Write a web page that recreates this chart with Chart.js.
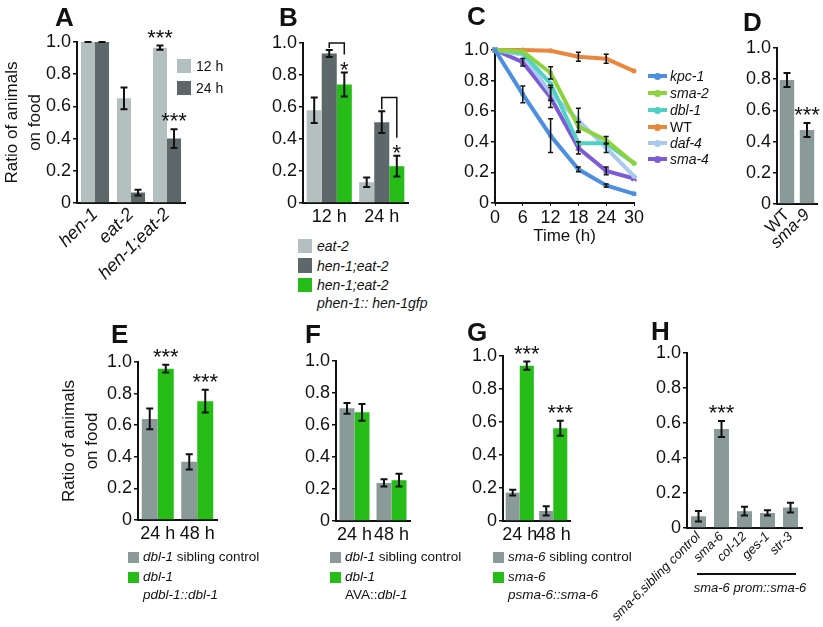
<!DOCTYPE html>
<html>
<head>
<meta charset="utf-8">
<script src="https://cdn.jsdelivr.net/npm/chart.js@4"></script>
<style>
  body { margin: 0; background: #fff; font-family: 'Liberation Sans', Arial, sans-serif; }
  #fig { position: relative; width: 823px; height: 627px; overflow: hidden; }
  canvas { position: absolute; }
  .t { position: absolute; white-space: nowrap; color: #111; }
  .box { position: absolute; }
</style>
</head>
<body>
<div id="fig"></div>
<script>
// ---- A: hen-1 / eat-2 ----
const aCats = ['hen-1', 'eat-2', 'hen-1;eat-2'];
const a12h = [1.0, 0.65, 0.965];
const a12hErr = [0, 0.067, 0.013];
const a12hStars = ['', '', '***'];
const a24h = [1.0, 0.065, 0.40];
const a24hErr = [0, 0.018, 0.058];
const a24hStars = ['', '', '***'];

// ---- B: rescue ----
const bCats = ['12 h', '24 h'];
const bEat2 = [0.58, 0.13];
const bEat2Err = [0.08, 0.03];
const bHenEat = [0.935, 0.505];
const bHenEatErr = [0.022, 0.068];
const bRescue = [0.74, 0.23];
const bRescueErr = [0.075, 0.065];
const bRescueStars = ['*', '*'];
const bBracketTop = [1.0, 0.66];

// ---- C: time course ----
const cTimes = [0, 6, 12, 18, 24, 30];
const cKpc1 = [1.0, 0.71, 0.44, 0.22, 0.115, 0.06];
const cKpc1Err = [0, 0.055, 0.11, 0.015, 0.01, 0];
const cSma2 = [1.0, 0.99, 0.85, 0.50, 0.41, 0.26];
const cSma2Err = [0, 0, 0.04, 0.03, 0.025, 0];
const cDbl1 = [1.0, 0.98, 0.78, 0.39, 0.39, 0.26];
const cDbl1Err = [0, 0, 0, 0, 0, 0];
const cWT = [1.0, 1.0, 0.995, 0.956, 0.943, 0.862];
const cWTErr = [0, 0, 0, 0.03, 0.03, 0];
const cDaf4 = [1.0, 0.97, 0.72, 0.54, 0.36, 0.175];
const cDaf4Err = [0, 0, 0.05, 0.08, 0.03, 0];
const cSma4 = [1.0, 0.92, 0.69, 0.36, 0.21, 0.16];
const cSma4Err = [0, 0.025, 0.065, 0.04, 0.025, 0];

// ---- D: sma-9 ----
const dCats = ['WT', 'sma-9'];
const dVals = [0.795, 0.474];
const dErr = [0.045, 0.045];
const dStars = ['', '***'];

// ---- E-G: 24 h / 48 h ----
const timeCats = ['24 h', '48 h'];
const eSibling = [0.64, 0.368];
const eSiblingErr = [0.065, 0.048];
const eRescue = [0.958, 0.752];
const eRescueErr = [0.024, 0.072];
const eStars = ['***', '***'];
const fSibling = [0.704, 0.238];
const fSiblingErr = [0.033, 0.023];
const fAVA = [0.679, 0.255];
const fAVAErr = [0.052, 0.04];
const gSibling = [0.172, 0.061];
const gSiblingErr = [0.018, 0.028];
const gRescue = [0.941, 0.562];
const gRescueErr = [0.025, 0.045];
const gStars = ['***', '***'];

// ---- H: tissue promoters ----
const hCats = ['sma-6,sibling control', 'sma-6', 'col-12', 'ges-1', 'str-3'];
const hVals = [0.067, 0.566, 0.096, 0.086, 0.117];
const hErr = [0.03, 0.046, 0.025, 0.015, 0.028];
const hStars = ['', '***', '', '', ''];

const LIGHT = '#b4bfbf', DARK = '#5d686b', GREEN = '#27bd18', GRAY = '#8a9a99';
const cColors = { 'kpc-1': '#4c8ee0', 'sma-2': '#8dd33c', 'dbl-1': '#4fd2c4',
                  'WT': '#e9883c', 'daf-4': '#a9c9ee', 'sma-4': '#7c5cd6' };

const FONT = "'Liberation Sans', Arial, sans-serif";
Chart.defaults.font.family = FONT;
Chart.defaults.color = '#111';
const fig = document.getElementById('fig');

// error bars, significance stars and brackets
const marks = {
  id: 'marks',
  afterDatasetsDraw(chart, args, opt) {
    const ctx = chart.ctx, ys = chart.scales.y;
    const cap = opt.cap || 3.5;
    ctx.save();
    ctx.strokeStyle = '#111';
    ctx.fillStyle = '#111';
    ctx.lineWidth = opt.lineWidth || 2;
    chart.data.datasets.forEach((ds, di) => {
      const meta = chart.getDatasetMeta(di);
      meta.data.forEach((el, i) => {
        const raw = ds.data[i];
        const v = typeof raw === 'object' ? raw.y : raw;
        const e = ds.errors ? ds.errors[i] : 0;
        if (e > 0 || (opt.zeroCaps && ds.errors)) {
          const y1 = ys.getPixelForValue(v + e), y2 = ys.getPixelForValue(v - e);
          ctx.beginPath();
          ctx.moveTo(el.x, y1); ctx.lineTo(el.x, y2);
          ctx.moveTo(el.x - cap, y1); ctx.lineTo(el.x + cap, y1);
          ctx.moveTo(el.x - cap, y2); ctx.lineTo(el.x + cap, y2);
          ctx.stroke();
        }
        if (ds.stars && ds.stars[i]) {
          ctx.font = (opt.starSize || 22) + 'px ' + FONT;
          ctx.textAlign = 'center';
          ctx.textBaseline = 'alphabetic';
          ctx.fillText(ds.stars[i], el.x, ys.getPixelForValue(v + e) - (opt.starLift || 1));
        }
      });
    });
    if (opt.bracket) {
      const br = opt.bracket;
      const m1 = chart.getDatasetMeta(br.from), m2 = chart.getDatasetMeta(br.to);
      const d1 = chart.data.datasets[br.from], d2 = chart.data.datasets[br.to];
      ctx.lineWidth = 1.5;
      br.top.forEach((t, i) => {
        const yt = ys.getPixelForValue(t);
        const yl = ys.getPixelForValue(d1.data[i] + d1.errors[i]) - 2;
        const yr = ys.getPixelForValue(d2.data[i] + d2.errors[i]) - 18;
        ctx.beginPath();
        ctx.moveTo(m1.data[i].x, yl); ctx.lineTo(m1.data[i].x, yt);
        ctx.lineTo(m2.data[i].x, yt); ctx.lineTo(m2.data[i].x, yr);
        ctx.stroke();
      });
    }
    ctx.restore();
  }
};
Chart.register(marks);

function makeCanvas(b) {
  const c = document.createElement('canvas');
  c.width = b.yw + (b.r - b.l) + b.pr;
  c.height = b.pt + (b.b - b.t) + b.xh;
  c.style.left = (b.l - b.yw) + 'px';
  c.style.top = (b.t - b.pt) + 'px';
  fig.appendChild(c);
  return c;
}
const noPad = s => { s.paddingLeft = 0; s.paddingRight = 0; s.paddingTop = 0; s.paddingBottom = 0; };

function yAxis(b, title) {
  return {
    min: 0, max: 1,
    ticks: { stepSize: 0.2, padding: 2, font: { size: 18 }, color: '#111',
             callback: v => v === 0 ? '0' : v.toFixed(1) },
    grid: { display: true, drawOnChartArea: false, drawTicks: true, tickLength: 4,
            color: '#111', lineWidth: 1.5 },
    border: { color: '#111', width: 2 },
    title: title ? { display: true, text: title, color: '#111',
                     font: { size: 17, lineHeight: 1.35 }, padding: { top: b.titlePad, bottom: 0 } }
                 : { display: false },
    afterFit: s => { s.width = b.yw; noPad(s); }
  };
}
function xCat(b, ticks) {
  return {
    grid: { display: false, drawTicks: false },
    border: { color: '#111', width: 2 },
    ticks: Object.assign({ font: { size: 18 }, color: '#111', padding: 3, autoSkip: false,
                           maxRotation: 0 }, ticks || {}),
    afterFit: s => { s.height = b.xh; noPad(s); }
  };
}
function bars(data, errors, color, cp, stars) {
  return { data, errors, stars, backgroundColor: color, borderWidth: 0,
           categoryPercentage: cp, barPercentage: 1 };
}
function barChart(b, labels, datasets, extra) {
  extra = extra || {};
  return new Chart(makeCanvas(b), {
    type: 'bar',
    data: { labels, datasets },
    options: {
      responsive: false, animation: false, devicePixelRatio: 1,
      layout: { padding: { top: b.pt, right: b.pr, left: 0, bottom: 0 } },
      plugins: { legend: { display: false }, tooltip: { enabled: false }, marks: extra.marks || {} },
      scales: { x: xCat(b, extra.xTicks), y: yAxis(b, extra.yTitle) }
    }
  });
}

const rot = { minRotation: 45, maxRotation: 45, padding: 1 };

// A
barChart({ l: 77, t: 42, r: 185, b: 203, yw: 77, pt: 42, pr: 12, xh: 85, titlePad: 1 }, aCats, [
  bars(a12h, a12hErr, LIGHT, 0.78, a12hStars),
  bars(a24h, a24hErr, DARK, 0.78, a24hStars)
], { yTitle: ['Ratio of animals', 'on food'], marks: { zeroCaps: true },
     xTicks: Object.assign({ font: { size: 18, style: 'italic' } }, rot) });

// B
barChart({ l: 303, t: 43, r: 408, b: 203, yw: 48, pt: 30, pr: 6, xh: 30 }, bCats, [
  bars(bEat2, bEat2Err, LIGHT, 0.86),
  bars(bHenEat, bHenEatErr, DARK, 0.86),
  bars(bRescue, bRescueErr, GREEN, 0.86, bRescueStars)
], { marks: { starLift: -4, bracket: { from: 1, to: 2, top: bBracketTop } } });

// C
const cSeries = [
  { name: 'kpc-1', vals: cKpc1, errs: cKpc1Err },
  { name: 'sma-2', vals: cSma2, errs: cSma2Err },
  { name: 'dbl-1', vals: cDbl1, errs: cDbl1Err },
  { name: 'WT', vals: cWT, errs: cWTErr },
  { name: 'daf-4', vals: cDaf4, errs: cDaf4Err },
  { name: 'sma-4', vals: cSma4, errs: cSma4Err }
];
const bC = { l: 495, t: 50, r: 634, b: 203, yw: 48, pt: 15, pr: 10, xh: 48 };
new Chart(makeCanvas(bC), {
  type: 'line',
  data: { datasets: cSeries.map(s => ({
    label: s.name,
    data: cTimes.map((t, i) => ({ x: t, y: s.vals[i] })),
    errors: s.errs,
    borderColor: cColors[s.name], backgroundColor: cColors[s.name],
    borderWidth: 4, tension: 0, clip: 8,
    pointStyle: s.name === 'sma-4' ? 'crossRot' : 'circle',
    pointRadius: s.name === 'sma-4' ? 3.5 : 2.5,
    pointBorderWidth: s.name === 'sma-4' ? 2 : 0
  })) },
  options: {
    responsive: false, animation: false, devicePixelRatio: 1,
    layout: { padding: { top: bC.pt, right: bC.pr, left: 0, bottom: 0 } },
    plugins: { legend: { display: false }, tooltip: { enabled: false }, marks: { lineWidth: 1.5, cap: 2.5 } },
    scales: {
      x: { type: 'linear', min: 0, max: 30,
           ticks: { stepSize: 6, font: { size: 18 }, color: '#111', padding: 1 },
           grid: { drawOnChartArea: false, tickLength: 3, color: '#111' },
           border: { color: '#111', width: 2 },
           title: { display: true, text: 'Time (h)', color: '#111', font: { size: 17 }, padding: { top: 0, bottom: 4 } },
           afterFit: s => { s.height = bC.xh; noPad(s); } },
      y: yAxis(bC)
    }
  }
});

// D
barChart({ l: 777, t: 48, r: 817, b: 204, yw: 45, pt: 40, pr: 6, xh: 60 }, dCats, [
  Object.assign(bars(dVals, dErr, GRAY, 1, dStars), { barPercentage: 0.72 })
], { xTicks: Object.assign({ font: c => ({ size: 17, style: c.index === 0 ? 'normal' : 'italic' }) }, rot) });

// E
barChart({ l: 138, t: 362, r: 217, b: 520, yw: 138, pt: 35, pr: 8, xh: 28, titlePad: 58 }, timeCats, [
  bars(eSibling, eSiblingErr, GRAY, 0.81),
  bars(eRescue, eRescueErr, GREEN, 0.81, eStars)
], { yTitle: ['Ratio of animals', 'on food'] });

// F
barChart({ l: 336, t: 361, r: 410, b: 521, yw: 45, pt: 20, pr: 6, xh: 28 }, timeCats, [
  bars(fSibling, fSiblingErr, GRAY, 0.81),
  bars(fAVA, fAVAErr, GREEN, 0.81)
]);

// G
barChart({ l: 503, t: 356, r: 570, b: 521, yw: 45, pt: 20, pr: 8, xh: 28 }, timeCats, [
  bars(gSibling, gSiblingErr, GRAY, 0.84),
  bars(gRescue, gRescueErr, GREEN, 0.84, gStars)
]);

// H
barChart({ l: 687, t: 353, r: 802, b: 528, yw: 80, pt: 20, pr: 10, xh: 99 }, hCats, [
  Object.assign(bars(hVals, hErr, GRAY, 1, hStars), { barPercentage: 0.65 })
], { xTicks: Object.assign({ font: { size: 13, style: 'italic' } }, rot) });

// ---- text overlays: panel letters, legends ----
function addText(x, yc, html, size, css) {
  const d = document.createElement('div');
  d.className = 't';
  d.style.left = x + 'px';
  d.style.top = (yc - size * 0.6) + 'px';
  d.style.fontSize = size + 'px';
  d.style.lineHeight = (size * 1.2) + 'px';
  if (css) d.style.cssText += css;
  d.innerHTML = html;
  fig.appendChild(d);
}
function addBox(x, y, w, h, color, css) {
  const d = document.createElement('div');
  d.className = 'box';
  d.style.cssText = `left:${x}px;top:${y}px;width:${w}px;height:${h}px;background:${color};` + (css || '');
  fig.appendChild(d);
}
function letter(x, capTop, s) { addText(x, capTop + 9.6, s, 26, 'font-weight:bold;'); }

letter(55, 8, 'A'); letter(279, 8, 'B'); letter(467, 7, 'C'); letter(743, 13, 'D');
letter(111, 325, 'E'); letter(305, 325, 'F'); letter(467, 323, 'G'); letter(651, 322, 'H');

// A legend
addBox(177, 59, 14, 14, LIGHT); addText(196, 66, '12 h', 14);
addBox(177, 81, 14, 14, DARK); addText(196, 88, '24 h', 14);

// B legend
addBox(298, 239, 14, 14, LIGHT); addText(317, 246, '<i>eat-2</i>', 14);
addBox(298, 258, 14, 15, DARK); addText(317, 266, '<i>hen-1;eat-2</i>', 14);
addBox(298, 278, 14, 14, GREEN); addText(317, 285, '<i>hen-1;eat-2</i>', 14);
addText(317, 303, '<i>phen-1:: hen-1gfp</i>', 14);

// C legend
const cLegY = [76, 93, 110, 127, 143, 159];
cSeries.forEach((s, i) => {
  addBox(648, cLegY[i] - 2, 19, 4, cColors[s.name]);
  addBox(654, cLegY[i] - 3.5, 7, 7, cColors[s.name], 'border-radius:50%;');
  addText(670, cLegY[i], s.name === 'WT' ? 'WT' : '<i>' + s.name + '</i>', 14);
});

// E-G legends
addBox(128, 552, 11, 11, GRAY); addText(143, 557, '<i>dbl-1</i> sibling control', 13.5);
addBox(128, 572, 11, 11, GREEN); addText(143, 577, '<i>dbl-1</i>', 13.5);
addText(143, 595, '<i>pdbl-1::dbl-1</i>', 13.5);

addBox(330, 552, 11, 11, GRAY); addText(345, 557, '<i>dbl-1</i> sibling control', 13.5);
addBox(330, 572, 11, 11, GREEN); addText(345, 577, '<i>dbl-1</i>', 13.5);
addText(345, 595, 'AVA::<i>dbl-1</i>', 13.5);

addBox(493, 552, 11, 11, GRAY); addText(508, 557, '<i>sma-6</i> sibling control', 13.5);
addBox(493, 572, 11, 11, GREEN); addText(508, 577, '<i>sma-6</i>', 13.5);
addText(508, 595, '<i>psma-6::sma-6</i>', 13.5);

// H promoter group
addBox(697, 573, 99, 1.5, '#111');
addText(750, 588, '<i>sma-6 prom::sma-6</i>', 13, 'transform:translateX(-50%);');
</script>
</body>
</html>
